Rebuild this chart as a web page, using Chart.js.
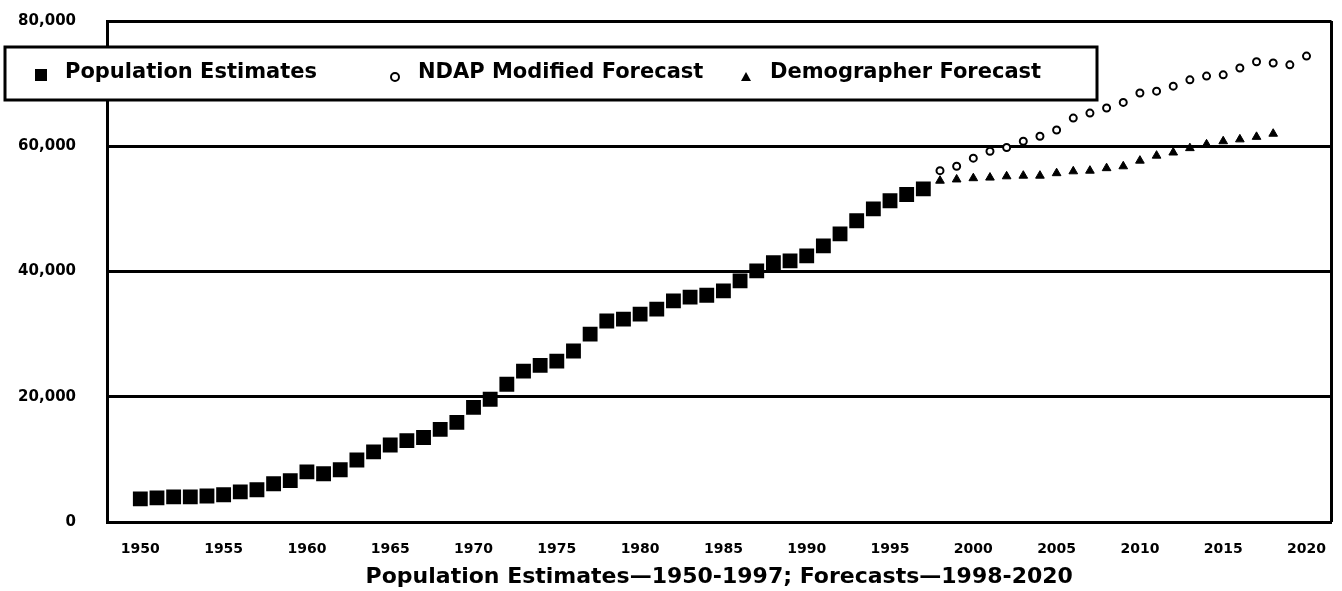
<!DOCTYPE html>
<html>
<head>
<meta charset="utf-8">
<script src="https://cdn.jsdelivr.net/npm/chart.js@4/dist/chart.umd.min.js"></script>
<style>
  html, body { margin: 0; padding: 0; background: #fff; }
  #chart { display: block; }
</style>
</head>
<body>
<canvas id="chart" width="1342" height="591"></canvas>
<script>
// Population estimates 1950-1997
const estimateYears = [1950, 1951, 1952, 1953, 1954, 1955, 1956, 1957, 1958, 1959,
  1960, 1961, 1962, 1963, 1964, 1965, 1966, 1967, 1968, 1969,
  1970, 1971, 1972, 1973, 1974, 1975, 1976, 1977, 1978, 1979,
  1980, 1981, 1982, 1983, 1984, 1985, 1986, 1987, 1988, 1989,
  1990, 1991, 1992, 1993, 1994, 1995, 1996, 1997];
const estimateValues = [3700, 3850, 4000, 4000, 4150, 4350, 4800, 5150, 6100, 6600,
  8000, 7700, 8350, 9900, 11200, 12300, 13000, 13500, 14800, 15900,
  18300, 19600, 22000, 24100, 25000, 25700, 27300, 30000, 32100, 32400,
  33200, 34000, 35300, 35900, 36200, 36900, 38500, 40100, 41400, 41700,
  42500, 44100, 46000, 48100, 50000, 51300, 52300, 53200];

// NDAP modified forecast 1998-2020
const ndapYears = [1998, 1999, 2000, 2001, 2002, 2003, 2004, 2005, 2006, 2007, 2008, 2009,
  2010, 2011, 2012, 2013, 2014, 2015, 2016, 2017, 2018, 2019, 2020];
const ndapValues = [56100, 56800, 58100, 59200, 59800, 60800, 61600, 62600, 64500, 65300, 66100, 67000,
  68500, 68800, 69600, 70600, 71200, 71400, 72500, 73500, 73300, 73000, 74400];

// Demographer forecast
const demogYears = [1998, 1999, 2000, 2001, 2002, 2003, 2004, 2005, 2006, 2007, 2008,
  2009, 2010, 2011, 2012, 2013, 2014, 2015, 2016, 2017, 2018];
const demogValues = [54500, 54700, 54900, 55000, 55200, 55300, 55300, 55700, 56000, 56100, 56500,
  56800, 57700, 58500, 59000, 59700, 60300, 60800, 61100, 61500, 62000];

const xTickYears = [1950, 1955, 1960, 1965, 1970, 1975, 1980, 1985, 1990, 1995, 2000, 2005, 2010, 2015, 2020];
const yTickValues = [0, 20000, 40000, 60000, 80000];
const seriesLabels = ['Population Estimates', 'NDAP Modified Forecast', 'Demographer Forecast'];
const xAxisTitle = 'Population Estimates\u20141950-1997; Forecasts\u20141998-2020';

function toPoints(xs, ys) {
  return xs.map((x, i) => ({ x: x, y: ys[i] }));
}

const FONT = '"DejaVu Sans", "Liberation Sans", sans-serif';

// legend box that sits over the top-left of the plot
const legendBox = {
  id: 'legendBox',
  afterDraw(chart) {
    const ctx = chart.ctx;
    const left = 5, top = 47, right = 1097, bottom = 100;
    const markerX = [41, 395, 746];
    const textX = [65, 418, 770];
    const midY = 73;
    ctx.save();
    ctx.fillStyle = '#fff';
    ctx.fillRect(left, top, right - left, bottom - top);
    ctx.strokeStyle = '#000';
    ctx.lineWidth = 3;
    ctx.strokeRect(left, top, right - left, bottom - top);

    chart.data.datasets.forEach((ds, i) => {
      const mx = markerX[i], my = midY + 2;
      ctx.fillStyle = '#000';
      ctx.strokeStyle = '#000';
      if (ds.pointStyle === 'rect') {
        ctx.fillRect(mx - 6, my - 6, 12, 12);
      } else if (ds.pointStyle === 'circle') {
        ctx.lineWidth = 2;
        ctx.beginPath();
        ctx.arc(mx, my + 2, 4, 0, Math.PI * 2);
        ctx.stroke();
      } else {
        ctx.beginPath();
        ctx.moveTo(mx, my - 3);
        ctx.lineTo(mx + 5, my + 6);
        ctx.lineTo(mx - 5, my + 6);
        ctx.closePath();
        ctx.fill();
      }
      ctx.font = 'bold 21px ' + FONT;
      ctx.textBaseline = 'middle';
      ctx.textAlign = 'left';
      ctx.fillText(ds.label, textX[i], midY);
    });
    ctx.restore();
  }
};

// right edge of the plot frame
const frame = {
  id: 'frame',
  afterDatasetsDraw(chart) {
    const { ctx, chartArea } = chart;
    ctx.save();
    ctx.strokeStyle = '#000';
    ctx.lineWidth = 3;
    ctx.beginPath();
    ctx.moveTo(chartArea.right, chartArea.top);
    ctx.lineTo(chartArea.right, chartArea.bottom);
    ctx.stroke();
    ctx.restore();
  }
};

new Chart(document.getElementById('chart'), {
  type: 'scatter',
  data: {
    datasets: [
      {
        label: seriesLabels[0],
        data: toPoints(estimateYears, estimateValues),
        pointStyle: 'rect',
        pointRadius: 10.5,
        backgroundColor: '#000',
        borderWidth: 0
      },
      {
        label: seriesLabels[1],
        data: toPoints(ndapYears, ndapValues),
        pointStyle: 'circle',
        pointRadius: 3.5,
        backgroundColor: '#fff',
        borderColor: '#000',
        borderWidth: 2
      },
      {
        label: seriesLabels[2],
        data: toPoints(demogYears, demogValues),
        pointStyle: 'triangle',
        pointRadius: 5,
        backgroundColor: '#000',
        borderColor: '#000',
        borderWidth: 1
      }
    ]
  },
  options: {
    responsive: false,
    animation: false,
    devicePixelRatio: 1,
    layout: { padding: { left: 0, right: 4, top: 21, bottom: 0 } },
    plugins: {
      legend: { display: false },
      tooltip: { enabled: false }
    },
    scales: {
      x: {
        type: 'linear',
        min: 1948,
        max: 2021.5,
        afterBuildTicks: s => { s.ticks = xTickYears.map(v => ({ value: v })); },
        afterFit: s => { s.height = 69; },
        grid: { display: false },
        border: { display: true, color: '#000', width: 3 },
        ticks: {
          color: '#000',
          font: { family: FONT, size: 14, weight: 'bold' },
          padding: 11,
          maxRotation: 0,
          autoSkip: false,
          callback: v => String(v)
        },
        title: {
          display: true,
          text: xAxisTitle,
          color: '#000',
          font: { family: FONT, size: 22, weight: 'bold' },
          padding: { top: 0, bottom: 1 }
        }
      },
      y: {
        min: 0,
        max: 80000,
        afterBuildTicks: s => { s.ticks = yTickValues.map(v => ({ value: v })); },
        afterFit: s => { s.width = 107; },
        grid: { color: '#000', lineWidth: 3, drawTicks: true, tickLength: 29, tickColor: 'rgba(0,0,0,0)' },
        border: { display: true, color: '#000', width: 3 },
        ticks: {
          color: '#000',
          font: { family: FONT, size: 15, weight: 'bold' },
          padding: 2,
          callback: v => v.toLocaleString('en-US')
        }
      }
    }
  },
  plugins: [frame, legendBox]
});
</script>
</body>
</html>
